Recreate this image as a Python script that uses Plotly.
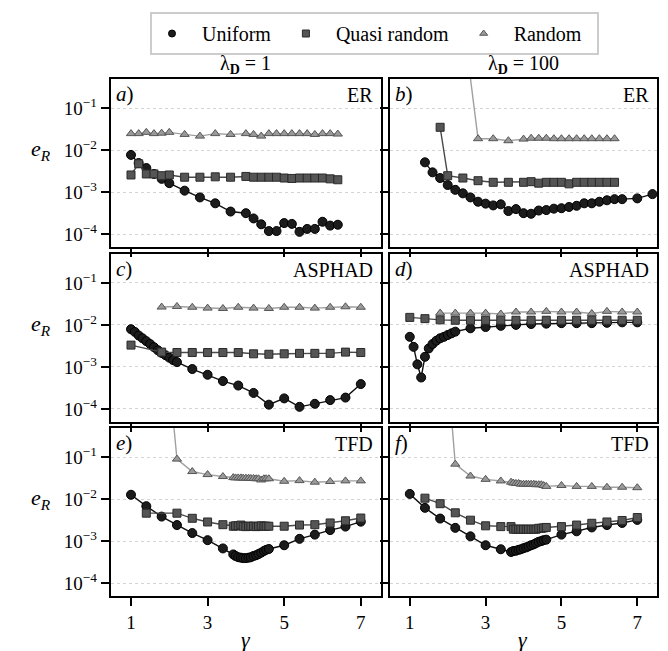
import plotly.graph_objects as go

# ---------------- data ----------------
panel_letters = ["a", "b", "c", "d", "e", "f"]
panel_networks = ["ER", "ER", "ASPHAD", "ASPHAD", "TFD", "TFD"]
column_titles = ["λ<sub><b>D</b></sub> = 1", "λ<sub><b>D</b></sub> = 100"]
series_names = ["Uniform", "Quasi random", "Random"]
y_tick_vals = [1e-1, 1e-2, 1e-3, 1e-4]
y_tick_text = ["10<sup>−1</sup>", "10<sup>−2</sup>", "10<sup>−3</sup>", "10<sup>−4</sup>"]
x_tick_vals = [1, 3, 5, 7]

# panel a  (ER, lambda_D = 1)
a_x = [1.0, 1.2, 1.4, 1.6, 1.8, 2.0, 2.4, 2.8, 3.2, 3.6, 4.0, 4.2, 4.4, 4.6, 4.8, 5.0,
       5.2, 5.4, 5.6, 5.8, 6.0, 6.2, 6.4]
a_uniform = [7.8e-3, 5.0e-3, 3.8e-3, 2.75e-3, 2.1e-3, 1.66e-3, 1.1e-3, 7.6e-4, 5.5e-4, 3.5e-4,
             3.2e-4, 2.4e-4, 1.74e-4, 1.2e-4, 1.2e-4, 1.86e-4, 1.78e-4, 1.15e-4, 1.35e-4,
             1.35e-4, 2.0e-4, 1.62e-4, 1.7e-4]
a_quasi = [2.6e-3, 4.8e-3, 2.75e-3, 2.75e-3, 2.5e-3, 2.6e-3, 2.3e-3, 2.3e-3, 2.35e-3, 2.3e-3,
           2.4e-3, 2.3e-3, 2.3e-3, 2.3e-3, 2.3e-3, 2.2e-3, 2.15e-3, 2.2e-3, 2.2e-3, 2.2e-3,
           2.2e-3, 2.1e-3, 2.0e-3]
a_random = [0.0251, 0.0251, 0.0269, 0.0251, 0.0257, 0.0269, 0.024, 0.0219, 0.0251, 0.024,
            0.0251, 0.024, 0.0219, 0.0251, 0.0251, 0.0251, 0.0251, 0.0251, 0.0251, 0.024,
            0.0251, 0.0251, 0.0245]

# panel b  (ER, lambda_D = 100)
b_uniform_x = [1.4, 1.6, 1.8, 2.0, 2.2, 2.4, 2.6, 2.8, 3.0, 3.2, 3.4, 3.6, 3.8, 4.0, 4.2, 4.4,
               4.6, 4.8, 5.0, 5.2, 5.4, 5.6, 5.8, 6.0, 6.2, 6.4, 6.6, 7.0, 7.4]
b_uniform = [5.2e-3, 3.0e-3, 2.2e-3, 1.5e-3, 1.15e-3, 9.5e-4, 7.6e-4, 6.0e-4, 5.4e-4, 4.9e-4,
             5.2e-4, 3.6e-4, 4.0e-4, 3.2e-4, 3.1e-4, 3.7e-4, 3.8e-4, 4.1e-4, 4.2e-4, 4.5e-4,
             4.8e-4, 5.5e-4, 5.5e-4, 6.0e-4, 6.5e-4, 6.9e-4, 6.9e-4, 7.2e-4, 9.1e-4]
b_quasi_x = [1.8, 2.0, 2.4, 2.8, 3.2, 3.6, 4.0, 4.2, 4.4, 4.6, 4.8, 5.0, 5.2, 5.4, 5.6, 5.8,
             6.0, 6.2, 6.4]
b_quasi = [3.55e-2, 2.5e-3, 2.2e-3, 1.9e-3, 1.74e-3, 1.74e-3, 1.74e-3, 1.8e-3, 1.66e-3,
           1.74e-3, 1.74e-3, 1.74e-3, 1.6e-3, 1.74e-3, 1.74e-3, 1.74e-3, 1.74e-3, 1.74e-3,
           1.74e-3]
b_random_x = [2.4, 2.8, 3.2, 3.6, 4.0, 4.2, 4.4, 4.6, 4.8, 5.0, 5.2, 5.4, 5.6, 5.8, 6.0, 6.2,
              6.4]
b_random = [14.0, 0.019, 0.019, 0.017, 0.0186, 0.0195, 0.0195, 0.0195, 0.019, 0.019, 0.019,
            0.019, 0.019, 0.019, 0.019, 0.019, 0.019]

# panel c  (ASPHAD, lambda_D = 1)
c_uniform_x = [1.0, 1.1, 1.2, 1.3, 1.4, 1.5, 1.6, 1.7, 1.8, 1.9, 2.0, 2.1, 2.2, 2.6, 3.0, 3.4,
               3.8, 4.2, 4.6, 5.0, 5.4, 5.8, 6.2, 6.6, 7.0]
c_uniform = [7.9e-3, 6.8e-3, 5.6e-3, 4.8e-3, 4.1e-3, 3.5e-3, 2.95e-3, 2.5e-3, 2.15e-3, 1.9e-3,
             1.66e-3, 1.45e-3, 1.3e-3, 8.9e-4, 6.5e-4, 4.6e-4, 3.6e-4, 2.4e-4, 1.26e-4,
             1.78e-4, 1.12e-4, 1.32e-4, 1.62e-4, 1.86e-4, 3.9e-4]
c_quasi_x = [1.0, 1.8, 2.2, 2.6, 3.0, 3.4, 3.8, 4.2, 4.6, 5.0, 5.4, 5.8, 6.2, 6.6, 7.0]
c_quasi = [3.3e-3, 2.25e-3, 2.2e-3, 2.2e-3, 2.2e-3, 2.2e-3, 2.2e-3, 2.05e-3, 2.0e-3, 2.05e-3,
           2.1e-3, 2.1e-3, 2.1e-3, 2.25e-3, 2.2e-3]
c_random_x = [1.8, 2.2, 2.6, 3.0, 3.4, 3.8, 4.2, 4.6, 5.0, 5.4, 5.8, 6.2, 6.6, 7.0]
c_random = [0.0266, 0.0275, 0.0263, 0.0251, 0.0246, 0.0263, 0.0251, 0.0246, 0.0263, 0.0263,
            0.0251, 0.0263, 0.027, 0.0263]

# panel d  (ASPHAD, lambda_D = 100)
d_uniform_x = [1.0, 1.1, 1.2, 1.3, 1.4, 1.5, 1.6, 1.7, 1.8, 1.9, 2.0, 2.1, 2.2, 2.6, 3.0, 3.4,
               3.8, 4.2, 4.6, 5.0, 5.4, 5.8, 6.2, 6.6, 7.0]
d_uniform = [5.2e-3, 3.0e-3, 1.15e-3, 5.6e-4, 1.74e-3, 2.75e-3, 3.5e-3, 4.2e-3, 4.8e-3, 5.2e-3,
             5.75e-3, 6.3e-3, 6.9e-3, 8.3e-3, 8.9e-3, 9.5e-3, 1.0e-2, 1.05e-2, 1.07e-2, 1.1e-2,
             1.1e-2, 1.1e-2, 1.12e-2, 1.15e-2, 1.15e-2]
d_quasi_x = [1.0, 1.4, 1.8, 2.2, 2.6, 3.0, 3.4, 3.8, 4.2, 4.6, 5.0, 5.4, 5.8, 6.2, 6.6, 7.0]
d_quasi = [0.0151, 0.0141, 0.0132, 0.0129, 0.0129, 0.0129, 0.0129, 0.0129, 0.0129, 0.0129,
           0.0129, 0.0129, 0.0129, 0.0129, 0.0129, 0.0129]
d_random_x = [1.8, 2.2, 2.6, 3.0, 3.4, 3.8, 4.2, 4.6, 5.0, 5.4, 5.8, 6.2, 6.6, 7.0]
d_random = [0.0191, 0.0191, 0.0191, 0.0191, 0.0182, 0.0203, 0.0203, 0.021, 0.0203, 0.0203,
            0.0187, 0.021, 0.0203, 0.0203]

# panel e  (TFD, lambda_D = 1)
tfd_uniform_x = [1.0, 1.4, 1.8, 2.2, 2.6, 3.0, 3.4, 3.67, 3.73, 3.8, 3.87, 3.93, 4.0, 4.07,
                 4.13, 4.2, 4.27, 4.33, 4.4, 4.47, 4.53, 4.6, 5.0, 5.4, 5.8, 6.2, 6.6, 7.0]
e_uniform = [0.0129, 6.9e-3, 3.9e-3, 2.45e-3, 1.58e-3, 1.07e-3, 6.8e-4, 4.9e-4, 4.5e-4, 4.2e-4,
             4.1e-4, 4.0e-4, 4.0e-4, 4.1e-4, 4.2e-4, 4.5e-4, 4.7e-4, 5.0e-4, 5.4e-4, 5.9e-4,
             6.3e-4, 6.6e-4, 8.1e-4, 1.15e-3, 1.45e-3, 1.86e-3, 2.25e-3, 2.95e-3]
e_quasi_x = [1.4, 2.2, 2.6, 3.0, 3.4, 3.67, 3.73, 3.8, 3.87, 3.93, 4.0, 4.07, 4.13, 4.2, 4.27,
             4.33, 4.4, 4.47, 4.53, 4.6, 5.0, 5.4, 5.8, 6.2, 6.6, 7.0]
e_quasi = [4.7e-3, 4.7e-3, 3.55e-3, 2.9e-3, 2.5e-3, 2.3e-3, 2.35e-3, 2.35e-3, 2.45e-3, 2.3e-3,
           2.25e-3, 2.3e-3, 2.3e-3, 2.3e-3, 2.25e-3, 2.3e-3, 2.35e-3, 2.3e-3, 2.3e-3, 2.3e-3,
           2.3e-3, 2.45e-3, 2.5e-3, 2.75e-3, 3.1e-3, 3.6e-3]
e_random_x = [1.8, 2.2, 2.6, 3.0, 3.4, 3.67, 3.73, 3.8, 3.87, 3.93, 4.0, 4.07, 4.13, 4.2, 4.27,
              4.33, 4.4, 4.47, 4.53, 4.6, 5.0, 5.4, 5.8, 6.2, 6.6, 7.0]
e_random = [630.0, 0.091, 0.046, 0.039, 0.035, 0.033, 0.0325, 0.0325, 0.0325, 0.032, 0.032,
            0.032, 0.0315, 0.0315, 0.031, 0.031, 0.029, 0.031, 0.031, 0.031, 0.027, 0.028,
            0.0257, 0.0267, 0.0276, 0.0276]

# panel f  (TFD, lambda_D = 100)
f_uniform = [0.0135, 6.3e-3, 3.5e-3, 2.1e-3, 1.32e-3, 8.1e-4, 6.5e-4, 5.6e-4, 5.9e-4, 6.0e-4,
             6.3e-4, 6.5e-4, 6.9e-4, 7.2e-4, 7.6e-4, 8.1e-4, 8.5e-4, 9.1e-4, 9.8e-4, 1.02e-3,
             1.07e-3, 1.1e-3, 1.45e-3, 1.74e-3, 2.15e-3, 2.45e-3, 2.75e-3, 3.25e-3]
f_quasi_x = [1.4, 1.8, 2.2, 2.6, 3.0, 3.4, 3.67, 3.73, 3.8, 3.87, 3.93, 4.0, 4.07, 4.13, 4.2,
             4.27, 4.33, 4.4, 4.47, 4.53, 4.6, 5.0, 5.4, 5.8, 6.2, 6.6, 7.0]
f_quasi = [0.0107, 7.9e-3, 4.8e-3, 3.2e-3, 2.35e-3, 2.25e-3, 2.25e-3, 1.95e-3, 1.95e-3,
           1.95e-3, 1.95e-3, 1.95e-3, 1.95e-3, 1.95e-3, 1.95e-3, 1.95e-3, 1.95e-3, 2.05e-3,
           2.05e-3, 2.1e-3, 2.15e-3, 2.25e-3, 2.45e-3, 2.7e-3, 2.9e-3, 3.15e-3, 3.7e-3]
f_random_x = [1.8, 2.2, 2.6, 3.0, 3.4, 3.67, 3.73, 3.8, 3.87, 3.93, 4.0, 4.07, 4.13, 4.2, 4.27,
              4.33, 4.4, 4.47, 4.53, 4.6, 5.0, 5.4, 5.8, 6.2, 6.6, 7.0]
f_random = [1600.0, 0.069, 0.036, 0.030, 0.0275, 0.0257, 0.0245, 0.024, 0.024, 0.023, 0.023,
            0.023, 0.023, 0.023, 0.023, 0.0224, 0.0224, 0.0224, 0.0214, 0.0204, 0.0214, 0.0204,
            0.0204, 0.0195, 0.0195, 0.019]

panels = [
    (a_x, a_uniform, a_x, a_quasi, a_x, a_random),
    (b_uniform_x, b_uniform, b_quasi_x, b_quasi, b_random_x, b_random),
    (c_uniform_x, c_uniform, c_quasi_x, c_quasi, c_random_x, c_random),
    (d_uniform_x, d_uniform, d_quasi_x, d_quasi, d_random_x, d_random),
    (tfd_uniform_x, e_uniform, e_quasi_x, e_quasi, e_random_x, e_random),
    (tfd_uniform_x, f_uniform, f_quasi_x, f_quasi, f_random_x, f_random),
]

# ---------------- styling ----------------
W, H = 668, 651
FONT = "Liberation Serif"
NB = "\u00a0"


def px(x):
    return x / W


def py(y):
    return 1 - y / H


col_px = [(102.7, 372.7), (381.7, 649.0)]
row_px = [(71, 239), (245.5, 413.5), (420, 588)]

styles = [
    dict(line=dict(color="#111111", width=1.4),
         marker=dict(symbol="circle", size=9, color="#1c1c1c", line=dict(color="#000000", width=1))),
    dict(line=dict(color="#4a4a4a", width=1.4),
         marker=dict(symbol="square", size=8, color="#555555", line=dict(color="#2a2a2a", width=1))),
    dict(line=dict(color="#a0a0a0", width=1.4),
         marker=dict(symbol="triangle-up", size=8, color="#9a9a9a", line=dict(color="#555555", width=1))),
]

fig = go.Figure()
layout_axes = {}
annotations = []

for i, data in enumerate(panels):
    r, c = divmod(i, 2)
    n = i + 1
    xs = "x" if n == 1 else f"x{n}"
    ys = "y" if n == 1 else f"y{n}"
    for k in range(3):
        fig.add_trace(go.Scatter(
            x=data[2 * k], y=data[2 * k + 1], mode="lines+markers",
            name=series_names[k], showlegend=False, xaxis=xs, yaxis=ys,
            line=styles[k]["line"], marker=styles[k]["marker"]))
    x0, x1 = col_px[c]
    y0, y1 = row_px[r]
    layout_axes[f"xaxis{'' if n == 1 else n}"] = dict(
        domain=[px(x0), px(x1)], anchor=ys, range=[0.47, 7.52],
        tickvals=x_tick_vals, ticks="outside", ticklen=8, tickwidth=1.6, tickcolor="black",
        showline=True, linecolor="black", linewidth=2, mirror=True,
        showgrid=False, zeroline=False, showticklabels=(r == 2),
        tickfont=dict(family=FONT, size=19, color="black"))
    layout_axes[f"yaxis{'' if n == 1 else n}"] = dict(
        domain=[py(y1), py(y0)], anchor=xs, type="log", range=[-4.30, -0.30],
        tickvals=y_tick_vals, ticktext=y_tick_text, ticks="outside", ticklen=8,
        tickwidth=1.6, tickcolor="black",
        showline=True, linecolor="black", linewidth=2, mirror=True,
        showgrid=True, gridcolor="#d4d4d4", gridwidth=1, griddash="dot", zeroline=False,
        showticklabels=(c == 0),
        tickfont=dict(family=FONT, size=19, color="black"))
    annotations.append(dict(
        text=f"<i>{panel_letters[i]}</i>)", xref=f"{xs} domain", yref=f"{ys} domain",
        x=0, y=1, xanchor="left", yanchor="top", xshift=3, yshift=-1, showarrow=False,
        font=dict(family=FONT, size=21, color="black")))
    annotations.append(dict(
        text=panel_networks[i], xref=f"{xs} domain", yref=f"{ys} domain",
        x=1, y=1, xanchor="right", yanchor="top", xshift=-6, yshift=-3, showarrow=False,
        font=dict(family=FONT, size=20, color="black")))
    if c == 0:
        annotations.append(dict(
            text="<i>e<sub>R</sub></i>", xref="paper", yref=ys, x=px(45), y=-2,
            xanchor="right", yanchor="middle", showarrow=False,
            font=dict(family=FONT, size=22, color="black")))

for c in range(2):
    xc = (col_px[c][0] + col_px[c][1]) / 2
    annotations.append(dict(
        text=column_titles[c], xref="paper", yref="paper", x=px(xc), y=py(57),
        xanchor="center", yanchor="middle", showarrow=False,
        font=dict(family=FONT, size=20, color="black")))
    annotations.append(dict(
        text="<i>γ</i>", xref="paper", yref="paper", x=px(xc), y=py(631),
        xanchor="center", yanchor="middle", showarrow=False,
        font=dict(family=FONT, size=22, color="black")))

# legend-only traces (markers only, smaller)
for k in range(3):
    m = dict(styles[k]["marker"])
    m["size"] = 7
    fig.add_trace(go.Scatter(x=[None], y=[None], mode="markers",
                             name=NB * 2 + series_names[k] + NB * 2,
                             marker=m, showlegend=True))

fig.update_layout(
    width=W, height=H,
    margin=dict(l=0, r=0, t=0, b=0),
    paper_bgcolor="white", plot_bgcolor="white",
    font=dict(family=FONT, color="black"),
    showlegend=True,
    legend=dict(orientation="h", x=px(366.5), y=py(4), xanchor="center", yanchor="top",
                bordercolor="#cccccc", borderwidth=2, bgcolor="white",
                font=dict(family=FONT, size=20, color="black"), itemsizing="trace"),
    annotations=annotations,
    **layout_axes,
)

fig.write_html("out.html")
